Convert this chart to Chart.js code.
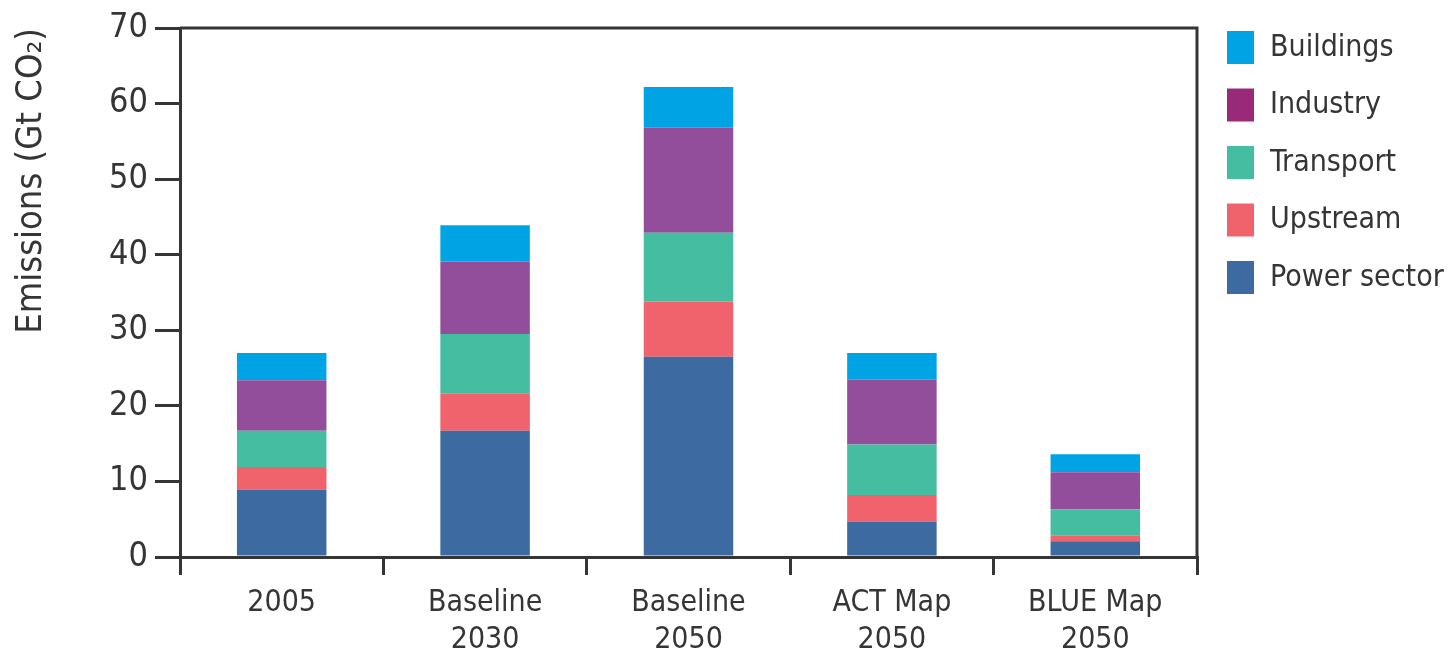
<!DOCTYPE html>
<html>
<head>
<meta charset="utf-8">
<script src="https://cdn.jsdelivr.net/npm/chart.js@4.4.1/dist/chart.umd.min.js"></script>
<style>
  html, body { margin: 0; padding: 0; background: #ffffff; }
  #wrap { width: 1448px; height: 657px; }
</style>
</head>
<body>
<div id="wrap"><canvas id="emissionsChart" width="1448" height="657"></canvas></div>
<script>
// データ（Gt CO2）
const categories = ['2005', ['Baseline', '2030'], ['Baseline', '2050'], ['ACT Map', '2050'], ['BLUE Map', '2050']];
const powerSector = [8.9, 16.7, 26.5, 4.7, 2.1];
const upstream    = [3.0, 4.9, 7.3, 3.5, 0.7];
const transport   = [4.8, 7.9, 9.1, 6.7, 3.5];
const industry    = [6.7, 9.6, 13.9, 8.6, 4.9];
const buildings   = [3.6, 4.8, 5.4, 3.5, 2.4];
const yTicks = [0, 10, 20, 30, 40, 50, 60, 70];

const FONT = "'Liberation Sans Narrow', 'DejaVu Sans Condensed', 'Arial Narrow', sans-serif";
const INK = '#353535';

// 凡例（上から順）
const legendLabels = ['Buildings', 'Industry', 'Transport', 'Upstream', 'Power sector'];
const legendColors = ['#00a4e4', '#982a79', '#45bda0', '#f1636c', '#3d6ba1'];

// 枠線と凡例を描くプラグイン
const frameAndLegend = {
  id: 'frameAndLegend',
  afterDraw(chart) {
    const { ctx, chartArea } = chart;
    ctx.save();
    ctx.strokeStyle = INK;
    ctx.lineWidth = 3;
    ctx.beginPath();
    ctx.moveTo(chartArea.left, chartArea.top);
    ctx.lineTo(chartArea.right, chartArea.top);
    ctx.lineTo(chartArea.right, chartArea.bottom);
    ctx.stroke();

    // 凡例
    const x0 = chartArea.right + 30;
    let y0 = 31;
    ctx.font = '30px ' + FONT;
    ctx.textBaseline = 'middle';
    ctx.textAlign = 'left';
    legendLabels.forEach((label, i) => {
      ctx.fillStyle = legendColors[i];
      ctx.fillRect(x0, y0, 27, 33);
      ctx.fillStyle = INK;
      ctx.fillText(label, x0 + 43, y0 + 17);
      y0 += 57.5;
    });
    ctx.restore();
  }
};

const ctx = document.getElementById('emissionsChart');
new Chart(ctx, {
  type: 'bar',
  data: {
    labels: categories,
    datasets: [
      { label: 'Power sector', data: powerSector, backgroundColor: '#3d6ba1' },
      { label: 'Upstream', data: upstream, backgroundColor: '#f1636c' },
      { label: 'Transport', data: transport, backgroundColor: '#45bda0' },
      { label: 'Industry', data: industry, backgroundColor: '#934e9b' },
      { label: 'Buildings', data: buildings, backgroundColor: '#00a4e4' }
    ]
  },
  options: {
    responsive: false,
    animation: false,
    layout: { padding: { left: 0, top: 28, right: 251, bottom: 0 } },
    datasets: {
      bar: { categoryPercentage: 1, barPercentage: 0.44, borderWidth: 0 }
    },
    plugins: {
      legend: { display: false },
      tooltip: { enabled: false }
    },
    scales: {
      x: {
        stacked: true,
        offset: true,
        afterFit: (scale) => { scale.height = 100; },
        grid: { offset: true, drawOnChartArea: false, tickLength: 18, lineWidth: 3, color: INK },
        border: { width: 3, color: INK },
        ticks: {
          autoSkip: false,
          maxRotation: 0,
          padding: 10,
          color: INK,
          font: { family: FONT, size: 30, lineHeight: 1.23 }
        }
      },
      y: {
        stacked: true,
        min: yTicks[0],
        max: yTicks[yTicks.length - 1],
        afterFit: (scale) => { scale.width = 180; },
        afterBuildTicks: (scale) => { scale.ticks = yTicks.map(v => ({ value: v })); },
        grid: { drawOnChartArea: false, tickLength: 25, lineWidth: 3, color: INK },
        border: { width: 3, color: INK },
        title: {
          display: true,
          text: 'Emissions (Gt CO\u2082)',
          align: 'end',
          color: INK,
          padding: { top: 10, bottom: 0 },
          font: { family: FONT, size: 36 }
        },
        ticks: {
          padding: 7,
          color: INK,
          font: { family: FONT, size: 34 }
        }
      }
    }
  },
  plugins: [frameAndLegend]
});
</script>
</body>
</html>
